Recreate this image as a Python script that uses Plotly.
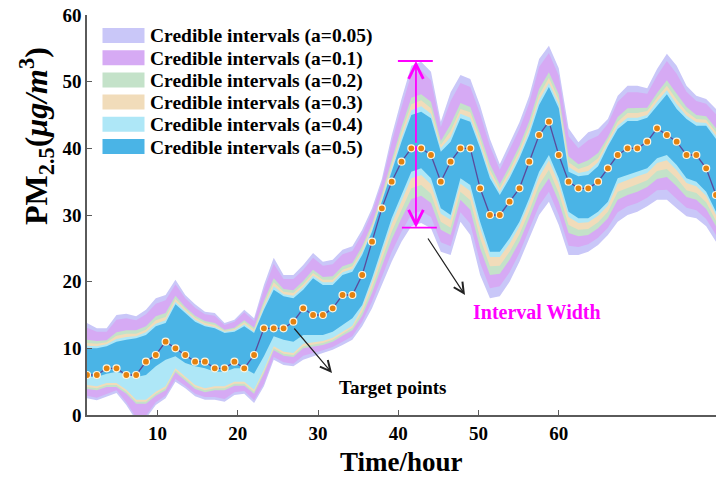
import plotly.graph_objects as go

# ---------------- data ----------------
HOUR_STEP = 1.2242          # hours between consecutive target points
hours = [round(i * HOUR_STEP, 4) for i in range(1, 66)]

target = [6, 6, 7, 7, 6, 6, 8, 9, 11, 10, 9, 8, 8, 7, 7, 8, 7, 9, 13, 13,
          13, 14, 16, 15, 15, 16, 18, 18, 21, 26, 31, 35, 38, 40, 40, 39, 35, 38, 40, 40,
          34, 30, 30, 32, 34, 38, 42, 44, 39, 35, 34, 34, 35, 37, 39, 40, 40, 41, 43, 42,
          41, 39, 39, 37, 33]

hi05 = [13.8, 13.0, 13.0, 15.0, 15.2, 14.8, 15.8, 17.5, 18.0, 20.3, 18.0, 16.6, 15.5, 15.3, 13.8,
        14.3, 15.8, 14.5, 19.5, 23.6, 21.0, 21.0, 22.5, 24.3, 23.0, 23.3, 24.8, 25.3, 27.8, 31.0,
        35.4, 41.9, 47.4, 52.4, 53.0, 51.5, 44.0, 48.4, 51.0, 50.4, 46.4, 41.4, 37.6, 40.8, 43.9,
        47.9, 53.4, 55.4, 52.0, 43.0, 40.9, 42.4, 42.9, 44.4, 47.9, 49.4, 49.4, 49.0, 51.9, 54.2,
        52.4, 49.4, 47.9, 47.4, 45.9]
hi10 = [13.1, 12.5, 12.5, 14.3, 14.5, 14.2, 15.1, 16.7, 17.2, 19.6, 17.5, 16.1, 15.1, 14.9, 13.5,
        14.0, 15.4, 14.1, 18.8, 22.7, 20.4, 20.4, 21.8, 23.6, 22.4, 22.6, 24.1, 24.6, 27.1, 30.4,
        34.8, 40.9, 46.2, 51.1, 51.7, 50.2, 43.2, 47.1, 49.8, 49.2, 45.2, 40.3, 36.8, 39.8, 42.9,
        46.8, 52.2, 54.3, 50.9, 41.8, 40.0, 41.2, 41.9, 43.7, 47.0, 48.4, 48.4, 48.2, 50.9, 53.1,
        51.2, 48.5, 47.1, 46.7, 45.1]
hi20 = [11.3, 11.1, 11.2, 12.4, 12.7, 12.7, 13.3, 14.8, 15.3, 17.9, 16.2, 14.9, 14.1, 13.8, 12.8,
        13.1, 14.2, 13.1, 17.1, 20.5, 18.9, 18.7, 20.1, 21.8, 20.7, 20.8, 22.3, 22.8, 25.3, 28.7,
        33.2, 38.4, 43.2, 47.6, 48.1, 47.0, 41.1, 43.6, 46.8, 46.2, 42.2, 37.6, 34.6, 37.4, 40.4,
        44.1, 48.9, 51.4, 48.1, 38.8, 37.6, 38.2, 39.3, 41.7, 44.7, 46.0, 46.0, 46.1, 48.3, 50.2,
        48.2, 46.2, 45.0, 44.8, 43.0]
hi30 = [10.8, 10.7, 10.9, 11.9, 12.2, 12.2, 12.8, 14.2, 14.7, 17.4, 15.9, 14.6, 13.8, 13.5, 12.6,
        12.9, 13.9, 12.8, 16.6, 19.9, 18.5, 18.3, 19.6, 21.3, 20.3, 20.3, 21.8, 22.3, 24.8, 28.3,
        32.7, 37.7, 42.4, 46.6, 47.2, 46.0, 40.5, 42.6, 45.9, 45.4, 41.4, 36.8, 34.0, 36.7, 39.7,
        43.3, 48.0, 50.6, 47.3, 37.9, 36.9, 37.4, 38.5, 41.2, 44.0, 45.3, 45.3, 45.6, 47.6, 49.4,
        47.3, 45.5, 44.4, 44.3, 42.4]
hi40 = [10.4, 10.3, 10.6, 11.4, 11.7, 11.8, 12.4, 13.7, 14.2, 17.0, 15.6, 14.3, 13.5, 13.2, 12.5,
        12.7, 13.6, 12.5, 16.2, 19.3, 18.1, 17.9, 19.2, 20.9, 19.9, 19.9, 21.4, 21.9, 24.4, 27.9,
        32.3, 37.0, 41.6, 45.7, 46.3, 45.2, 40.0, 41.7, 45.2, 44.6, 40.6, 36.1, 33.5, 36.0, 39.0,
        42.6, 47.2, 49.8, 46.6, 37.2, 36.3, 36.6, 37.9, 40.7, 43.4, 44.6, 44.6, 45.0, 47.0, 48.7,
        46.6, 44.9, 43.9, 43.8, 41.9]
hi50 = [10.0, 10.0, 10.3, 11.0, 11.3, 11.5, 12.0, 13.3, 13.8, 16.6, 15.3, 14.0, 13.3, 13.0, 12.3,
        12.5, 13.3, 12.3, 15.8, 18.8, 17.8, 17.5, 18.8, 20.5, 19.5, 19.5, 21.0, 21.5, 24.0, 27.5,
        32.0, 36.5, 41.0, 45.0, 45.5, 44.5, 39.5, 41.0, 44.5, 44.0, 40.0, 35.5, 33.0, 35.5, 38.5,
        42.0, 46.5, 49.2, 46.0, 36.5, 35.8, 36.0, 37.3, 40.3, 42.9, 44.1, 44.1, 44.6, 46.4, 48.1,
        45.9, 44.4, 43.4, 43.4, 41.4]
lo50 = [5.7, 5.7, 6.2, 6.5, 6.0, 5.7, 6.0, 7.3, 8.3, 8.8, 7.8, 7.3, 7.0, 6.5, 6.5,
        7.0, 7.0, 6.2, 8.8, 11.8, 11.3, 11.0, 12.0, 12.0, 12.0, 12.5, 13.5, 14.5, 16.5, 20.5,
        25.0, 29.5, 33.0, 36.5, 37.0, 35.5, 31.0, 30.0, 35.5, 34.5, 29.0, 24.5, 24.5, 26.5, 29.0,
        32.5, 36.5, 39.0, 35.5, 30.5, 29.5, 29.5, 30.5, 32.0, 35.5, 36.0, 36.5, 37.0, 38.5, 39.0,
        37.5, 35.5, 35.0, 33.5, 30.5]
lo40 = [4.5, 4.3, 4.8, 4.8, 3.8, 2.3, 2.3, 3.5, 4.3, 7.0, 5.7, 4.5, 4.0, 4.3, 4.3,
        5.0, 5.0, 3.8, 6.8, 10.3, 9.5, 9.3, 10.7, 10.9, 11.1, 11.6, 12.5, 13.4, 16.1, 19.9,
        24.3, 28.7, 32.2, 35.5, 36.0, 34.6, 30.2, 29.3, 34.7, 33.6, 28.0, 23.7, 23.7, 25.7, 28.3,
        31.8, 35.7, 38.2, 34.7, 29.7, 28.8, 28.9, 29.9, 31.4, 34.7, 35.3, 35.8, 36.3, 37.8, 38.2,
        36.7, 34.8, 34.3, 32.9, 30.0]
lo30 = [4.2, 4.0, 4.5, 4.5, 3.5, 2.0, 2.0, 3.2, 4.0, 6.7, 5.4, 4.2, 3.7, 4.0, 4.0,
        4.7, 4.7, 3.5, 6.5, 10.0, 9.2, 9.0, 10.3, 10.6, 10.8, 11.3, 12.2, 13.1, 15.5, 19.1,
        23.3, 27.5, 30.8, 34.0, 34.5, 33.2, 29.0, 28.1, 33.5, 32.2, 26.5, 22.3, 22.4, 24.5, 27.1,
        30.6, 34.5, 36.8, 33.3, 28.5, 27.8, 27.9, 28.9, 30.5, 33.5, 34.1, 34.6, 35.2, 36.6, 36.9,
        35.5, 33.7, 33.3, 31.9, 29.1]
lo20 = [3.9, 3.7, 4.2, 4.2, 3.2, 1.7, 1.7, 2.9, 3.7, 6.4, 5.1, 3.9, 3.4, 3.7, 3.7,
        4.4, 4.4, 3.2, 6.2, 9.7, 8.9, 8.7, 10.0, 10.2, 10.5, 11.0, 11.9, 12.7, 14.9, 18.3,
        22.3, 26.3, 29.5, 32.4, 32.9, 31.8, 27.8, 27.0, 32.3, 30.8, 25.0, 21.0, 21.2, 23.3, 26.0,
        29.5, 33.3, 35.5, 32.0, 27.3, 26.8, 27.0, 28.0, 29.5, 32.3, 33.0, 33.5, 34.2, 35.4, 35.7,
        34.3, 32.7, 32.3, 30.9, 28.3]
lo10 = [2.9, 2.6, 3.2, 3.7, 1.9, -0.4, -0.1, 1.9, 2.9, 5.4, 4.4, 3.2, 2.7, 2.7, 2.4,
        3.4, 3.6, 2.2, 4.7, 8.7, 7.9, 7.7, 8.9, 9.3, 9.7, 10.2, 11.0, 11.8, 14.0, 17.0,
        20.7, 24.4, 27.5, 30.1, 30.6, 29.7, 25.9, 25.3, 30.4, 28.7, 22.8, 19.0, 19.3, 21.4, 24.3,
        27.8, 31.4, 33.5, 30.0, 25.4, 25.2, 25.6, 26.6, 28.1, 30.4, 31.3, 31.8, 32.6, 33.7, 33.8,
        32.4, 31.1, 30.7, 29.4, 27.0]
lo05 = [2.5, 2.2, 2.8, 3.3, 1.5, -0.8, -0.5, 1.5, 2.5, 5.0, 4.0, 2.8, 2.3, 2.3, 2.0,
        3.0, 3.2, 1.8, 4.3, 8.3, 7.5, 7.3, 8.3, 8.8, 9.3, 9.8, 10.5, 11.3, 13.3, 16.0,
        19.5, 23.0, 26.0, 28.3, 28.8, 28.0, 24.5, 24.0, 29.0, 27.0, 21.0, 17.5, 17.8, 20.0, 23.0,
        26.5, 30.0, 32.0, 28.5, 24.0, 24.0, 24.5, 25.5, 27.0, 29.0, 30.0, 30.5, 31.3, 32.3, 32.3,
        31.0, 29.8, 29.5, 28.3, 26.0]

levels = ["0.05", "0.1", "0.2", "0.3", "0.4", "0.5"]
band_hi = [hi05, hi10, hi20, hi30, hi40, hi50]
band_lo = [lo05, lo10, lo20, lo30, lo40, lo50]
band_colors = ["#c9c7f8", "#d6aaf4", "#c4e2c9", "#f1dcba", "#aee7f7", "#4ab4e6"]

x_ticks = [10, 20, 30, 40, 50, 60]
y_ticks = [0, 10, 20, 30, 40, 50, 60]

# interval-width marker values
iw_hour, iw_top, iw_bottom = 42.2, 53.1, 28.1

# ---------------- figure ----------------
W, H = 718, 477
ML, MR, MT, MB = 87, 2, 15, 62
PW, PH = W - ML - MR, H - MT - MB
SERIF = "Liberation Serif, Times New Roman, serif"


def pxx(px):
    return (px - ML) / PW


def pxy(py):
    return (H - MB - py) / PH


fig = go.Figure()
for lev, hi, lo, col in zip(levels, band_hi, band_lo, band_colors):
    fig.add_trace(go.Scatter(
        x=hours + hours[::-1], y=hi + lo[::-1], mode="lines", fill="toself",
        fillcolor=col, line=dict(width=0), hoverinfo="skip",
        name=f"Credible intervals (a={lev})", showlegend=False))

fig.add_trace(go.Scatter(
    x=hours, y=target, mode="lines+markers", name="Target points",
    line=dict(color="#5a4a9c", width=1.3),
    marker=dict(color="#e5820f", size=7, line=dict(color="#fff6e0", width=1.2)),
    showlegend=False))

shapes = []
annotations = []

# manual legend (wide swatches like the reference)
for k, (lev, col) in enumerate(zip(levels, band_colors)):
    cy = 35.5 + 22.2 * k
    shapes.append(dict(type="rect", xref="paper", yref="paper",
                       x0=pxx(102.5), x1=pxx(144.5), y0=pxy(cy + 7.5), y1=pxy(cy - 7.5),
                       fillcolor=col, line=dict(width=0), layer="above"))
    annotations.append(dict(xref="paper", yref="paper", x=pxx(148), y=pxy(cy + 1),
                            xanchor="left", yanchor="middle", showarrow=False,
                            text=f"<b>Credible intervals (a={lev})</b>",
                            font=dict(family=SERIF, size=19.5, color="black")))

# interval width marker (magenta)
MAG = "#ff00ff"
for yv, dx0, dx1 in [(iw_top, -2.25, 2.1), (iw_bottom, -1.75, 2.6)]:
    shapes.append(dict(type="line", xref="x", yref="y",
                       x0=iw_hour + dx0, x1=iw_hour + dx1, y0=yv, y1=yv,
                       line=dict(color=MAG, width=1.8)))
mid = (iw_top + iw_bottom) / 2
for yv in (iw_top, iw_bottom):
    annotations.append(dict(xref="x", yref="y", x=iw_hour, y=yv,
                            axref="x", ayref="y", ax=iw_hour, ay=mid,
                            text="", showarrow=True, arrowhead=5, arrowsize=1.6,
                            arrowwidth=1.8, arrowcolor=MAG, standoff=0))

# black pointer arrows + labels
annotations.append(dict(xref="paper", yref="paper", x=pxx(332), y=pxy(373),
                        ax=-39, ay=-46, text="", showarrow=True, arrowhead=5,
                        arrowsize=1.7, arrowwidth=1.2, arrowcolor="#222222"))
annotations.append(dict(xref="paper", yref="paper", x=pxx(465), y=pxy(295),
                        ax=-38, ay=-58, text="", showarrow=True, arrowhead=5,
                        arrowsize=1.7, arrowwidth=1.2, arrowcolor="#222222"))
annotations.append(dict(xref="paper", yref="paper", x=pxx(393), y=pxy(387),
                        xanchor="center", yanchor="middle", showarrow=False,
                        text="<b>Target points</b>",
                        font=dict(family=SERIF, size=19, color="black")))
annotations.append(dict(xref="paper", yref="paper", x=pxx(537), y=pxy(312),
                        xanchor="center", yanchor="middle", showarrow=False,
                        text="<b>Interval Width</b>",
                        font=dict(family=SERIF, size=20, color=MAG)))

# axis titles
annotations.append(dict(xref="paper", yref="paper", x=pxx(36), y=pxy(136),
                        xanchor="center", yanchor="middle", showarrow=False, textangle=-90,
                        text="<b>PM<sub>2.5</sub>(<i>μg/m</i><sup>3</sup>)</b>",
                        font=dict(family=SERIF, size=32, color="black")))
annotations.append(dict(xref="paper", yref="paper", x=pxx(401), y=pxy(462),
                        xanchor="center", yanchor="middle", showarrow=False,
                        text="<b>Time/hour</b>",
                        font=dict(family=SERIF, size=27, color="black")))

axis_common = dict(showgrid=False, zeroline=False, showline=True, linecolor="#5a5a5a",
                   linewidth=1.5, ticks="inside", ticklen=5, tickwidth=1.2,
                   tickcolor="#5a5a5a",
                   tickfont=dict(family=SERIF, size=19, color="black", weight="bold"))

fig.update_layout(
    width=W, height=H, margin=dict(l=ML, r=MR, t=MT, b=MB),
    plot_bgcolor="white", paper_bgcolor="white", showlegend=False,
    xaxis=dict(range=[hours[0], hours[-1]], tickvals=x_ticks, **axis_common),
    yaxis=dict(range=[0, 60], tickvals=y_ticks, **axis_common),
    shapes=shapes, annotations=annotations,
)

fig.write_html("out.html")
